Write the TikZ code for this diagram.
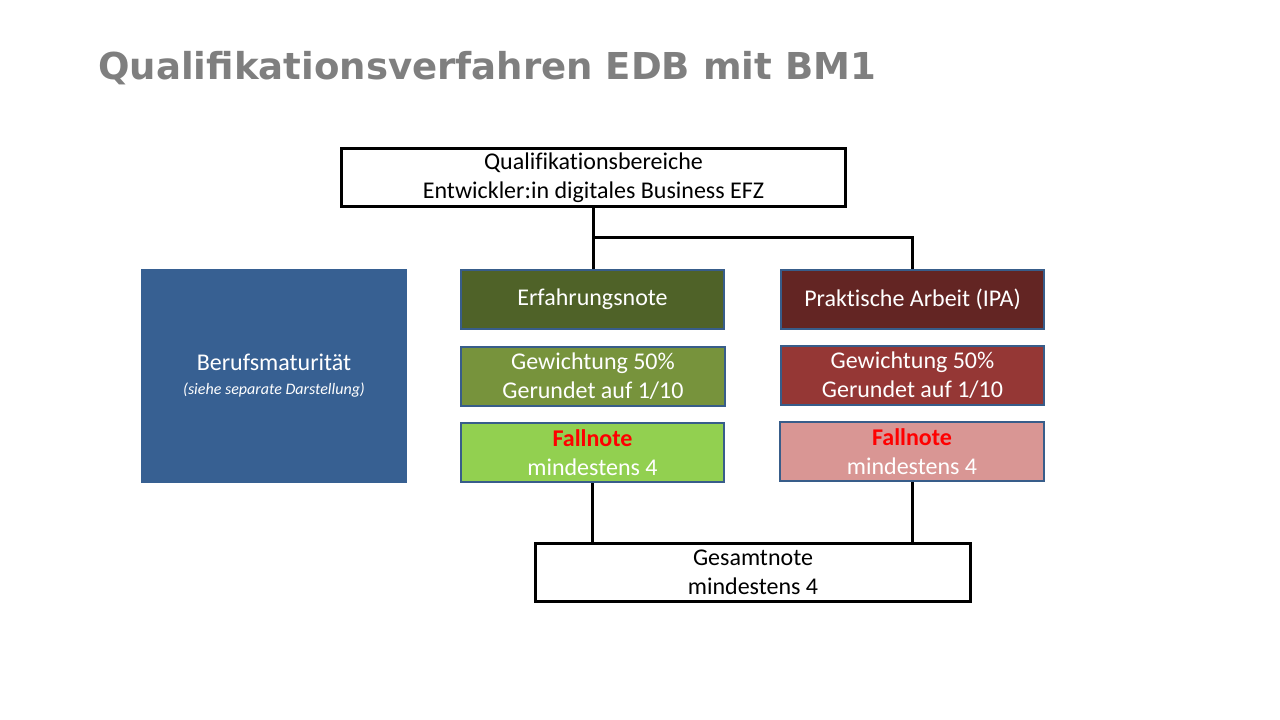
\documentclass[tikz,border=0pt]{standalone}
\usepackage{fontspec}
\setmainfont{Carlito}[Ligatures=CommonOff]
\newfontfamily\titelfont{DejaVu Sans}
\definecolor{titelgrau}{HTML}{7F7F7F}
\definecolor{randblau}{HTML}{385D8A}
\definecolor{bmblau}{HTML}{376092}
\definecolor{olivdunkel}{HTML}{4F6228}
\definecolor{olivmittel}{HTML}{77933C}
\definecolor{hellgruen}{HTML}{92D050}
\definecolor{rotdunkel}{HTML}{632523}
\definecolor{rotmittel}{HTML}{953735}
\definecolor{rosa}{HTML}{D99694}
\definecolor{fallrot}{HTML}{FF0000}
\tikzset{
  feld/.style={draw=randblau, line width=1.5pt, minimum width=197.5pt,
    minimum height=44.5pt, inner sep=0pt, text=white, align=center,
    font=\fontsize{18}{21.75}\selectfont},
  rahmen/.style={draw=black, line width=2.25pt, fill=white, inner sep=0pt,
    minimum height=43.5pt, align=center, font=\fontsize{18}{21.75}\selectfont},
  linie/.style={line width=2.25pt}
}
\begin{document}
\begin{tikzpicture}[x=0.75pt,y=-0.75pt]
   \useasboundingbox (0,0) rectangle (1280,720);
   % Titel
   \node[anchor=base west, inner sep=0pt, text=titelgrau,
     font=\titelfont\bfseries\fontsize{27.8}{32}\selectfont]
     (titel) at (98,80) {Qualifikationsverfahren EDB mit BM1};
   % oben und unten
   \node[rahmen, minimum width=378.5pt] (bereiche) at (593.5,178)
     {Qualifikationsbereiche\\Entwickler:in digitales Business EFZ};
   \node[rahmen, minimum width=326.5pt] (gesamt) at (753,572.5)
     {Gesamtnote\\mindestens 4};
   % Berufsmaturitaet
   \node[fill=bmblau, minimum width=199.5pt, minimum height=160.5pt,
     inner sep=0pt, text=white, align=center, font=\fontsize{18}{18}\selectfont]
     (bm) at (274,376)
     {Berufsmaturität\\{\fontsize{12}{14}\selectfont\itshape (siehe separate Darstellung)}};
   % linke Spalte
   \node[feld, fill=olivdunkel] (erfahrung) at (592.5,299.5) {Erfahrungsnote};
   \node[feld, fill=olivmittel] (gewlinks) at (593,376.5)
     {Gewichtung 50\%\\Gerundet auf 1/10};
   \node[feld, fill=hellgruen] (falllinks) at (592.5,452.5)
     {\textbf{\textcolor{fallrot}{Fallnote}}\\mindestens 4};
   % rechte Spalte
   \node[feld, fill=rotdunkel] (ipa) at (912.5,299.5) {Praktische Arbeit (IPA)};
   \node[feld, fill=rotmittel] (gewrechts) at (912.5,375.5)
     {Gewichtung 50\%\\Gerundet auf 1/10};
   \node[feld, fill=rosa] (fallrechts) at (912,451.5)
     {\textbf{\textcolor{fallrot}{Fallnote}}\\mindestens 4};
   % Verbindungen
   \coordinate (knick) at (bereiche.south |- 0,238);
   \draw[linie] (bereiche.south) -- (bereiche.south |- erfahrung.north);
   \draw[linie] (knick) -| (ipa.north);
   \draw[linie] (falllinks.south) -- (falllinks.south |- gesamt.north);
   \draw[linie] (fallrechts.south) -- (fallrechts.south |- gesamt.north);
\end{tikzpicture}
\end{document}
